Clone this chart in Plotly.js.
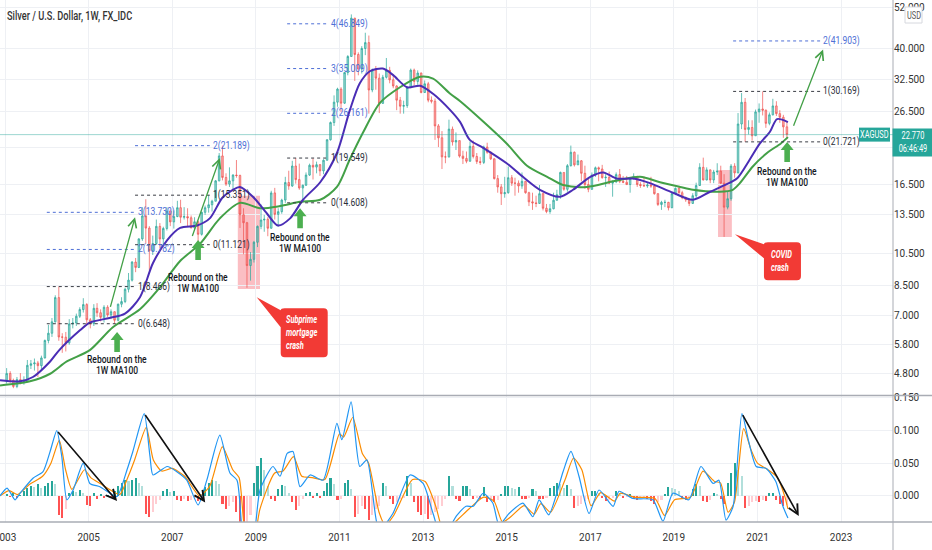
<!DOCTYPE html>
<html><head><meta charset="utf-8">
<script src="https://cdn.plot.ly/plotly-3.0.1.min.js"></script>
<style>
html,body{margin:0;padding:0;background:#fff;}
#chart{width:932px;height:550px;}
.annotation-text{transform-box:fill-box;transform-origin:50% 50%;transform:scaleX(0.74);}
.annotation-text[text-anchor="start"]{transform-origin:0% 50%;}
.annotation-text[text-anchor="end"]{transform-origin:100% 50%;}
</style>
</head><body><div id="chart"></div>
<script>
// ---------- DATA (monthly OHLC, Jan 2003 .. Sep 2021) ----------
const startYear = 2003;
const opens = [
4.57,4.81,4.60,4.42,4.62,4.55,4.57,5.07,5.12,5.15,5.06,5.32,
5.96,6.25,6.73,7.88,6.10,6.09,5.87,6.64,6.68,6.98,7.29,7.53,
6.82,6.65,7.35,7.14,6.93,7.40,7.04,7.19,6.80,7.55,7.68,8.32,
8.83,9.93,9.59,11.55,13.41,12.39,10.70,11.21,12.53,11.55,12.36,13.85,
12.90,13.36,14.15,13.30,13.35,13.25,12.40,12.91,11.90,13.73,14.15,14.42,
14.76,16.85,19.82,17.23,16.50,16.85,17.50,17.45,13.52,12.83,9.71,10.11,
11.30,12.53,13.06,13.12,12.38,15.58,13.55,13.79,14.87,16.67,16.30,18.56,
16.99,16.09,16.38,17.50,18.65,18.43,18.72,17.98,19.27,22.02,24.63,28.13,
30.63,27.95,34.10,37.87,48.60,38.36,34.89,39.90,41.45,30.45,34.66,32.88,
27.90,33.08,34.60,32.52,31.25,28.50,27.40,27.50,30.95,34.65,32.20,34.00,
29.95,31.70,28.50,28.30,24.10,22.30,19.70,19.70,23.60,21.70,21.90,19.80,
19.50,19.15,21.10,19.75,19.10,19.00,21.00,20.30,19.45,17.10,16.20,15.50,
15.60,17.20,16.60,16.60,16.30,16.80,15.60,14.70,14.60,14.55,15.50,14.10,
13.80,14.05,14.85,15.40,17.80,15.95,18.60,20.30,18.70,19.20,17.70,16.45,
15.95,17.50,18.35,18.20,17.20,17.25,16.60,16.75,17.55,16.80,16.70,16.45,
17.10,17.35,16.45,16.35,16.30,16.40,16.30,15.50,14.45,14.65,14.65,14.15,
15.50,16.05,15.60,15.10,14.90,14.55,15.30,16.35,18.40,16.95,18.10,16.95,
17.85,17.95,16.60,14.20,15.00,18.55,17.75,24.40,28.10,23.55,23.85,22.60,
26.40,26.90,26.70,24.50,25.90,27.45,26.10,25.50,23.95];
const highs = [
4.98,4.88,4.65,4.70,4.82,4.72,5.25,5.25,5.30,5.22,5.40,6.00,
6.60,6.90,8.00,8.47,6.25,6.30,6.85,6.90,7.10,7.40,7.85,7.60,
6.90,7.55,7.60,7.30,7.50,7.50,7.30,7.20,7.58,7.90,8.40,9.25,
10.00,10.20,11.60,14.20,14.95,12.55,11.80,13.10,12.80,12.50,14.20,14.00,
13.90,14.80,14.90,14.20,14.10,13.45,13.30,13.00,13.80,14.35,15.35,14.90,
16.95,20.20,21.19,17.70,18.40,17.60,19.30,17.55,14.10,12.90,10.60,11.40,
12.60,14.45,13.50,13.30,15.80,16.10,14.10,15.00,17.30,18.00,19.20,19.55,
18.85,16.45,17.80,18.85,19.50,19.10,18.80,19.40,22.10,24.80,29.40,30.90,
31.00,34.20,38.20,49.80,48.70,38.90,40.50,44.20,43.40,35.00,35.60,33.90,
33.60,37.50,35.40,33.30,31.40,29.10,28.40,31.10,35.00,35.00,34.60,34.10,
32.40,32.10,29.20,28.80,24.40,23.30,20.40,25.10,24.00,23.10,21.90,20.50,
20.40,21.80,21.90,20.20,19.70,21.20,21.60,20.40,19.50,17.50,16.50,17.30,
18.50,17.50,17.20,16.90,17.80,16.80,15.70,15.60,15.30,16.40,15.60,14.50,
14.50,15.60,15.90,17.90,17.80,18.80,21.20,20.40,20.00,19.30,18.60,17.10,
17.80,18.50,18.50,18.70,17.60,17.90,16.90,17.80,18.20,17.40,17.40,17.20,
17.70,17.40,16.70,17.35,16.70,17.30,16.40,15.55,14.80,14.90,14.70,15.60,
16.15,16.20,15.80,15.20,14.95,15.55,16.65,18.90,19.60,18.40,18.15,18.10,
18.90,18.60,17.60,15.75,18.80,18.90,26.20,29.85,28.90,25.00,25.00,26.80,
27.90,30.17,26.80,26.30,28.75,28.30,26.70,25.90,24.85];
const lows = [
4.50,4.53,4.37,4.37,4.48,4.47,4.55,4.95,4.90,4.70,4.93,5.30,
5.85,6.10,6.70,5.95,5.50,5.55,5.80,6.45,6.55,6.90,7.15,6.60,
6.45,6.55,6.95,6.75,6.70,6.95,6.85,6.65,6.75,7.40,7.60,8.15,
8.75,9.30,9.55,11.40,11.20,9.40,10.40,11.10,10.85,11.10,12.20,12.55,
12.35,13.30,12.80,13.10,12.50,12.40,12.20,11.12,11.80,13.50,13.70,13.80,
14.75,16.80,16.90,16.30,16.20,15.90,17.20,12.40,10.45,8.40,8.80,9.90,
10.95,12.30,12.10,11.75,12.35,13.10,12.50,13.60,14.60,15.90,16.20,16.55,
15.90,14.61,16.30,17.40,17.00,17.70,17.40,17.60,19.25,21.90,24.10,27.30,
26.40,27.80,33.50,37.80,32.30,33.50,33.90,38.20,26.10,30.00,30.50,26.20,
27.90,32.80,31.80,30.80,26.70,26.10,26.10,27.10,30.80,31.40,31.50,29.80,
29.90,28.10,27.90,22.00,21.00,18.20,18.90,19.60,21.20,20.60,19.60,18.80,
18.90,19.10,19.50,18.80,18.70,18.80,20.10,19.30,17.00,15.60,14.40,15.10,
15.50,16.30,15.30,15.60,16.00,15.50,14.30,13.95,14.20,14.50,13.90,13.65,
13.60,14.00,14.90,15.00,15.80,15.70,18.50,18.50,18.70,16.80,16.00,15.65,
15.90,17.30,16.80,17.10,16.20,16.50,15.20,16.60,16.60,16.60,16.40,15.60,
17.00,16.20,16.10,16.25,16.10,16.10,15.40,14.30,13.95,14.20,13.90,14.10,
15.35,15.50,14.95,14.70,14.30,14.50,15.10,16.30,16.90,16.90,16.60,16.60,
17.50,16.50,11.70,14.00,14.80,17.20,17.70,23.60,21.72,22.80,21.90,22.60,
24.60,25.80,23.80,24.20,25.80,25.70,24.60,22.30,22.10];
const closes = [
4.81,4.60,4.42,4.62,4.55,4.57,5.07,5.12,5.15,5.06,5.32,5.96,
6.25,6.73,7.88,6.10,6.09,5.87,6.64,6.68,6.98,7.29,7.53,6.82,
6.65,7.35,7.14,6.93,7.40,7.04,7.19,6.80,7.55,7.68,8.32,8.83,
9.93,9.59,11.55,13.41,12.39,10.70,11.21,12.53,11.55,12.36,13.85,12.90,
13.36,14.15,13.30,13.35,13.25,12.40,12.91,11.90,13.73,14.15,14.42,14.76,
16.85,19.82,17.23,16.50,16.85,17.50,17.45,13.52,12.83,9.71,10.11,11.30,
12.53,13.06,13.12,12.38,15.58,13.55,13.79,14.87,16.67,16.30,18.56,16.99,
16.09,16.38,17.50,18.65,18.43,18.72,17.98,19.27,22.02,24.63,28.13,30.63,
27.95,34.10,37.87,48.60,38.36,34.89,39.90,41.45,30.45,34.66,32.88,27.90,
33.08,34.60,32.52,31.25,28.50,27.40,27.50,30.95,34.65,32.20,34.00,29.95,
31.70,28.50,28.30,24.10,22.30,19.70,19.70,23.60,21.70,21.90,19.80,19.50,
19.15,21.10,19.75,19.10,19.00,21.00,20.30,19.45,17.10,16.20,15.50,15.60,
17.20,16.60,16.60,16.30,16.80,15.60,14.70,14.60,14.55,15.50,14.10,13.80,
14.05,14.85,15.40,17.80,15.95,18.60,20.30,18.70,19.20,17.70,16.45,15.95,
17.50,18.35,18.20,17.20,17.25,16.60,16.75,17.55,16.80,16.70,16.45,17.10,
17.35,16.45,16.35,16.30,16.40,16.30,15.50,14.45,14.65,14.65,14.15,15.50,
16.05,15.60,15.10,14.90,14.55,15.30,16.35,18.40,16.95,18.10,16.95,17.85,
17.95,16.60,14.20,15.00,18.55,17.75,24.40,28.10,23.55,23.85,22.60,26.40,
26.90,26.70,24.50,25.90,27.45,26.10,25.50,23.95,22.77];

// Moving averages (decimal year, price)
const ma50Years = [2002.88,2003.36,2003.67,2004.08,2004.30,2004.80,2005.03,2005.50,2005.87,2006.23,2006.54,2006.88,2007.19,2007.60,2007.90,2008.20,2008.45,2008.62,2008.93,2009.27,2009.53,2009.82,2010.13,2010.54,2010.94,2011.25,2011.49,2011.73,2012.04,2012.28,2012.62,2012.93,2013.24,2013.65,2013.89,2014.12,2014.44,2015.00,2015.39,2015.80,2016.28,2016.59,2017.00,2017.31,2017.64,2018.02,2018.43,2018.98,2019.46,2019.87,2020.27,2020.51,2020.82,2021.06,2021.30,2021.47,2021.73];
const ma50Vals = [4.60,4.57,4.70,5.20,5.60,6.38,6.70,6.90,7.10,7.90,9.87,11.46,12.40,12.60,13.20,15.10,15.90,16.20,15.20,13.60,12.60,13.20,14.90,16.70,20.20,26.70,31.80,34.40,35.00,33.60,31.00,31.30,29.70,26.70,24.70,22.00,20.90,18.90,17.30,15.90,15.20,15.90,17.30,17.80,17.10,17.10,16.60,15.60,14.90,15.70,16.50,17.10,19.40,21.50,23.20,25.20,24.70];
const ma100Years = [2002.88,2003.60,2004.08,2004.48,2005.03,2005.58,2006.23,2006.70,2007.19,2007.67,2008.14,2008.62,2009.10,2009.58,2010.06,2010.54,2010.94,2011.25,2011.56,2011.97,2012.45,2012.93,2013.24,2013.65,2013.89,2014.44,2015.00,2015.49,2015.97,2016.35,2016.92,2017.55,2018.19,2018.67,2019.15,2019.46,2020.10,2020.41,2020.58,2020.89,2021.23,2021.56,2021.73];
const ma100Vals = [4.45,4.57,4.80,5.20,5.60,6.50,7.30,8.40,10.00,11.20,13.20,14.60,14.10,14.30,14.70,14.90,16.20,19.40,23.00,28.00,31.00,33.20,32.80,29.70,28.30,24.80,21.50,18.60,17.30,16.40,16.20,16.80,17.30,16.70,16.20,15.90,15.70,15.90,16.60,18.50,20.20,21.50,22.40];

// MACD panel
const macdYears = [2002.88,2003.05,2003.24,2003.36,2003.67,2003.91,2004.08,2004.24,2004.36,2004.48,2004.63,2004.87,2005.03,2005.27,2005.51,2005.68,2005.92,2006.06,2006.33,2006.47,2006.54,2006.88,2007.11,2007.35,2007.62,2007.83,2008.14,2008.38,2008.55,2008.67,2008.85,2009.00,2009.10,2009.41,2009.58,2009.75,2009.89,2010.06,2010.30,2010.61,2010.94,2011.06,2011.28,2011.49,2011.66,2011.90,2012.00,2012.28,2012.69,2013.00,2013.24,2013.45,2013.81,2014.03,2014.20,2014.44,2014.67,2014.82,2015.06,2015.39,2015.63,2015.78,2016.01,2016.35,2016.54,2016.73,2016.97,2017.21,2017.55,2017.69,2018.02,2018.50,2018.74,2018.98,2019.36,2019.65,2019.94,2020.08,2020.25,2020.42,2020.63,2020.80,2020.97,2021.21,2021.44,2021.61,2021.73];
const macdVals = [0.000,0.012,-0.006,0.004,0.027,0.037,0.068,0.100,0.060,-0.006,0.009,0.050,0.019,0.014,0.004,-0.001,0.040,0.068,0.126,0.060,0.032,0.045,0.037,0.024,-0.014,0.024,0.093,0.035,0.024,-0.052,-0.110,-0.040,0.009,0.045,0.030,0.065,0.068,0.014,0.032,0.024,0.111,0.086,0.144,0.045,0.055,-0.042,-0.050,-0.027,0.032,0.019,-0.027,-0.065,-0.030,-0.016,-0.016,0.004,-0.011,-0.045,-0.027,-0.011,-0.032,-0.006,-0.029,0.037,0.068,0.030,-0.027,0.009,-0.016,0.007,-0.004,-0.006,-0.039,0.004,-0.006,0.045,0.019,0.024,-0.037,-0.016,0.126,0.081,0.045,0.042,0.022,-0.016,-0.034];
const signalYears = [2002.88,2003.10,2003.30,2003.60,2003.90,2004.10,2004.30,2004.45,2004.60,2004.90,2005.05,2005.30,2005.60,2005.75,2005.95,2006.10,2006.38,2006.55,2006.75,2007.00,2007.30,2007.65,2007.90,2008.20,2008.45,2008.60,2008.72,2008.90,2009.10,2009.45,2009.65,2009.90,2010.10,2010.35,2010.65,2011.00,2011.10,2011.32,2011.55,2011.70,2011.95,2012.10,2012.30,2012.75,2013.05,2013.30,2013.50,2013.85,2014.10,2014.45,2014.70,2014.90,2015.10,2015.42,2015.66,2015.82,2016.05,2016.40,2016.60,2016.80,2017.02,2017.25,2017.58,2017.72,2018.05,2018.55,2018.78,2019.02,2019.40,2019.70,2019.98,2020.12,2020.30,2020.45,2020.67,2020.85,2021.00,2021.25,2021.48,2021.65,2021.73];
const signalVals = [0.000,0.008,0.002,0.018,0.030,0.050,0.085,0.040,0.010,0.040,0.028,0.018,0.006,0.002,0.030,0.055,0.105,0.055,0.038,0.042,0.030,0.000,0.015,0.075,0.040,0.028,-0.045,-0.090,-0.020,0.035,0.038,0.060,0.030,0.028,0.025,0.095,0.090,0.120,0.065,0.050,-0.025,-0.045,-0.030,0.025,0.022,-0.015,-0.055,-0.035,-0.020,-0.002,-0.008,-0.040,-0.032,-0.015,-0.028,-0.012,-0.025,0.025,0.058,0.040,-0.015,0.005,-0.008,0.004,-0.002,-0.004,-0.030,-0.006,-0.002,0.038,0.022,0.020,-0.025,-0.010,0.103,0.070,0.050,0.040,0.028,0.000,-0.020];
// histogram, monthly, in thousandths
const histMilli = [
3,-2,4,-3,2,8,12,15,14,18,12,15,
20,22,18,-30,-34,-20,5,8,6,9,4,-14,
-16,4,-5,3,-4,2,-3,8,15,20,24,22,
25,27,20,15,-28,-32,-25,-12,-6,8,10,6,
8,-6,-8,-5,-8,-6,-4,-8,-3,14,20,24,
22,18,-12,-20,-15,-10,-25,-45,-50,-45,-30,20,
45,58,40,15,-5,-8,10,17,15,5,-10,-21,
-15,-5,5,6,-3,4,-4,8,20,27,18,-6,
-5,20,25,10,-32,-28,-15,-20,-37,-30,-20,-15,
20,15,-5,-12,-10,-5,-3,30,20,-10,-25,-30,
-28,-35,-30,-25,-20,-15,-5,30,15,-5,-8,15,
15,10,-5,-3,-5,14,-10,-8,-10,-6,3,15,
15,12,10,14,-5,-5,-3,10,8,-5,-5,-3,
12,15,19,18,12,16,10,-19,-15,-12,-8,-5,
8,8,5,-3,-8,-6,-3,7,4,-3,-2,3,
-5,-6,-4,-3,-5,-8,-12,-10,-6,3,14,12,
10,8,-4,-6,-3,10,18,15,-8,-10,-6,4,
3,-5,-12,20,35,50,40,30,-19,-15,-10,-8,
-10,-6,-8,4,5,-6,-12,-16,-14];

// Fibonacci levels drawn on the chart
const fib1 = [6.648, 8.466, 10.782, 13.730];
const fib2 = [11.121, 15.351, 21.189];
const fib3 = [14.608, 19.549, 26.161, 35.009, 46.849];
const fib4 = [21.721, 30.169, 41.903];

const priceTicks = [4.8, 5.8, 7, 8.5, 10.5, 13.5, 16.5, 21, 26.5, 32.5, 40, 52];
const priceTickText = ['4.800','5.800','7.000','8.500','10.500','13.500','16.500','','26.500','32.500','40.000','52.000'];
const macdTicks = [0, 0.05, 0.1, 0.15];
const macdTickText = ['0.000','0.050','0.100','0.150'];
const yearTicks = [2003,2005,2007,2009,2011,2013,2015,2017,2019,2021,2023];
const lastPrice = 22.77;

// ---------- helpers ----------
const FONT = 'Roboto, "Liberation Sans", sans-serif';
const PRICE_RANGE = [Math.log10(4.18), Math.log10(54.7)];
const PRICE_DOMAIN = [0.2433, 1];
function d(dec){
  const y = Math.floor(dec), f = dec - y;
  const a = Date.UTC(y,0,1), b = Date.UTC(y+1,0,1);
  return new Date(a + f*(b-a)).toISOString().slice(0,10);
}
const L = v => Math.log10(v);
const priceToPaper = v => PRICE_DOMAIN[0] + (L(v)-PRICE_RANGE[0])/(PRICE_RANGE[1]-PRICE_RANGE[0])*(PRICE_DOMAIN[1]-PRICE_DOMAIN[0]);
const months = closes.map((_, i) => {
  const y = startYear + Math.floor(i/12), m = i%12 + 1;
  return y + '-' + String(m).padStart(2,'0') + '-15';
});
const hist = histMilli.map(v => v/1000);
const histColors = hist.map((v,i) => {
  const p = i>0 ? hist[i-1] : 0;
  if (v >= 0) return v >= p ? '#26a69a' : '#b2dfdb';
  return v <= p ? '#ff5252' : '#ffcdd2';
});

// ---------- traces ----------
const traces = [
  {type:'candlestick', x:months, open:opens, high:highs, low:lows, close:closes,
   xaxis:'x', yaxis:'y', whiskerwidth:0,
   increasing:{line:{color:'rgba(38,166,154,0.7)',width:1}, fillcolor:'rgba(38,166,154,0.45)'},
   decreasing:{line:{color:'rgba(239,83,80,0.7)',width:1}, fillcolor:'rgba(239,83,80,0.45)'}},
  {type:'scatter', mode:'lines', x:ma100Years.map(d), y:ma100Vals, xaxis:'x', yaxis:'y',
   line:{color:'#43a047', width:2, shape:'spline', smoothing:0.8}},
  {type:'scatter', mode:'lines', x:ma50Years.map(d), y:ma50Vals, xaxis:'x', yaxis:'y',
   line:{color:'#4a2db5', width:2, shape:'spline', smoothing:0.8}},
  {type:'bar', x:months, y:hist, xaxis:'x', yaxis:'y2', width:18*86400000,
   marker:{color:histColors, line:{width:0}}},
  {type:'scatter', mode:'lines', x:signalYears.map(d), y:signalVals, xaxis:'x', yaxis:'y2',
   line:{color:'#fb8c00', width:1.2, shape:'spline', smoothing:0.6}},
  {type:'scatter', mode:'lines', x:macdYears.map(d), y:macdVals, xaxis:'x', yaxis:'y2',
   line:{color:'#2196f3', width:1.2, shape:'spline', smoothing:0.6}}
];

// ---------- shapes & annotations ----------
const shapes = [];
const ann = [];
const GRID = '#eef0f4';
const BORDER = '#a9acb4';
const W = 932/893;
const PX = 1/522;

shapes.push({type:'line', xref:'paper', yref:'paper', x0:0, x1:W, y0:0.2423, y1:0.2423, line:{color:BORDER, width:1.5}});
shapes.push({type:'line', xref:'paper', yref:'paper', x0:0, x1:W, y0:0, y1:0, line:{color:BORDER, width:1.5}});
shapes.push({type:'line', xref:'paper', yref:'paper', x0:1, x1:1, y0:-28*PX, y1:1, line:{color:BORDER, width:1}});
shapes.push({type:'line', xref:'paper', yref:'y', x0:0, x1:1, y0:lastPrice, y1:lastPrice, line:{color:'rgba(38,166,154,0.45)', width:1}});

// crash highlight boxes
shapes.push({type:'rect', xref:'x', yref:'y', x0:d(2008.57), x1:d(2009.10), y0:8.33, y1:15.3, fillcolor:'rgba(242,54,69,0.32)', line:{width:0}, layer:'below'});
shapes.push({type:'rect', xref:'x', yref:'y', x0:d(2020.06), x1:d(2020.39), y0:11.7, y1:18.1, fillcolor:'rgba(242,54,69,0.32)', line:{width:0}, layer:'below'});

// fib lines
function fibSet(levels, x0, x1){
  levels.forEach((v,i) => {
    const col = i <= 1 ? '#3a3d45' : '#4e6fd6';
    shapes.push({type:'line', xref:'x', yref:'y', x0:d(x0), x1:d(x1), y0:v, y1:v, line:{color:col, width:1, dash:'3px,3px'}});
    ann.push({xref:'x', yref:'y', x:d(x1), y:L(v), text:i+'('+v.toFixed(3)+')', showarrow:false, align:'left',
      xanchor:'left', yanchor:'middle', xshift:1, font:{family:FONT, size:11.5, color: i<=1 ? '#2a2e39' : '#4e6fd6'}});
  });
}
fibSet(fib1, 2004.00, 2006.11);
fibSet(fib2, 2006.11, 2007.90);
fibSet(fib3, 2009.75, 2010.73);
fibSet(fib4, 2020.42, 2022.50);

// block arrows "rebound"
const blockArrowPath = 'M0,0 L6.5,-8 L2.8,-8 L2.8,-20 L-2.8,-20 L-2.8,-8 L-6.5,-8 Z';
[[2005.68,6.3],[2007.62,11.46],[2010.06,14.1],[2021.71,21.7]].forEach(p => {
  shapes.push({type:'path', xref:'x', yref:'y', xsizemode:'pixel', ysizemode:'pixel', xanchor:d(p[0]), yanchor:p[1],
    path:blockArrowPath, fillcolor:'#4caf50', line:{width:0}});
});
// rebound texts
[[2005.68,5.28],[2007.62,9.0],[2010.06,11.68],[2021.71,17.96]].forEach(p => {
  ['Rebound on the','1W MA100'].forEach((t,k) => {
    ann.push({xref:'x', yref:'y', x:d(p[0]), y:L(p[1]), text:t, showarrow:false, xanchor:'center', yanchor:'middle',
      yshift:-k*11.5, font:{family:FONT, size:11.5, color:'#131722', weight:500}});
  });
});

// callouts
shapes.push({type:'path', xref:'x', yref:'y', xsizemode:'pixel', ysizemode:'pixel', xanchor:d(2009.02), yanchor:7.9,
  path:'M0,0 L24,-13 Q24,-11 28,-11 L67,-11 Q71,-11 71,-15 L71,-56 Q71,-60 67,-60 L28,-60 Q24,-60 24,-56 L24,-30 Z',
  fillcolor:'#f23a35', line:{width:0}});
ann.push({xref:'x', yref:'y', x:d(2009.02), y:L(7.9), text:'<b><i>Subprime<br>mortgage<br>crash</i></b>', showarrow:false,
  align:'left', xanchor:'left', yanchor:'middle', xshift:27, yshift:-35, font:{family:FONT, size:10, color:'#ffffff'}});
shapes.push({type:'path', xref:'x', yref:'y', xsizemode:'pixel', ysizemode:'pixel', xanchor:d(2020.464), yanchor:11.9,
  path:'M0,0 L29,-10 Q29,-8 33,-8 L62,-8 Q66,-8 66,-12 L66,-42 Q66,-46 62,-46 L33,-46 Q29,-46 29,-42 L29,-24 Z',
  fillcolor:'#f23a35', line:{width:0}});
ann.push({xref:'x', yref:'y', x:d(2020.464), y:L(11.9), text:'<b><i>COVID<br>crash</i></b>', showarrow:false,
  align:'left', xanchor:'left', yanchor:'middle', xshift:34, yshift:-27, font:{family:FONT, size:10, color:'#ffffff'}});

// projection arrows (price panel)
[[2005.51,7.35,2006.11,13.3],[2007.47,11.65,2008.14,19.55],[2021.85,23.9,2022.57,39.6]].forEach(a => {
  ann.push({xref:'x', yref:'y', axref:'x', ayref:'y', x:d(a[2]), y:L(a[3]), ax:d(a[0]), ay:L(a[1]), text:'',
    showarrow:true, arrowhead:5, arrowsize:1.3, arrowwidth:1.3, arrowcolor:'#43a047', standoff:0});
});
// MACD trend arrows
[[2004.24,0.100,2005.68,-0.008],[2006.33,0.126,2007.79,-0.010],[2020.63,0.126,2021.99,-0.031]].forEach(a => {
  ann.push({xref:'x', yref:'y2', axref:'x', ayref:'y2', x:d(a[2]), y:a[3], ax:d(a[0]), ay:a[1], text:'',
    showarrow:true, arrowhead:5, arrowsize:1.2, arrowwidth:1.6, arrowcolor:'#111', standoff:0});
});

// header
ann.push({xref:'paper', yref:'paper', x:5/893, y:1-16*PX, text:'Silver / U.S. Dollar, 1W, FX_IDC', showarrow:false, align:'left',
  xanchor:'left', yanchor:'middle', font:{family:FONT, size:12.5, color:'#333', weight:500}});
// USD tag
shapes.push({type:'rect', xref:'paper', yref:'paper', x0:905/893, x1:922/893, y0:1-23*PX, y1:1-7*PX,
  fillcolor:'#ffffff', line:{color:'#d6d8de', width:1}});
ann.push({xref:'paper', yref:'paper', x:913.5/893, y:1-15*PX, text:'USD', showarrow:false, xanchor:'center', yanchor:'middle',
  font:{family:FONT, size:10, color:'#555'}});
// symbol tag
const tagY = priceToPaper(lastPrice);
shapes.push({type:'rect', xref:'paper', yref:'paper', x0:859/893, x1:890/893, y0:tagY-7*PX, y1:tagY+7*PX,
  fillcolor:'#26a69a', line:{width:0}});
ann.push({xref:'paper', yref:'y', x:874.5/893, y:L(lastPrice), text:'XAGUSD', showarrow:false, xanchor:'center', yanchor:'middle',
  font:{family:FONT, size:10, color:'#fff'}});
// price tag (box + two lines)
ann.push({xref:'paper', yref:'y', x:892/893, y:L(lastPrice), text:'22.770<br>06:46:49', showarrow:false,
  xanchor:'left', yanchor:'top', yshift:7, width:40, height:27, align:'center', valign:'middle',
  bgcolor:'#26a69a', borderpad:0, font:{family:FONT, size:10, color:'#fff'}});

const layout = {
  width:932, height:550, margin:{l:0, r:39, t:0, b:28},
  paper_bgcolor:'#fff', plot_bgcolor:'#fff', showlegend:false, hovermode:false, dragmode:false,
  bargap:0,
  xaxis:{type:'date', range:[d(2002.88), d(2024.244)], anchor:'y2',
    tickvals:yearTicks.map(y => y+'-01-01'), ticktext:yearTicks.map(String),
    showgrid:true, gridcolor:GRID, gridwidth:1, zeroline:false, showline:false, ticks:'',
    ticklabeloverflow:'allow', ticklabelstandoff:8,
    tickfont:{family:FONT, size:10, color:'#333'}, rangeslider:{visible:false}},
  yaxis:{type:'log', domain:PRICE_DOMAIN, range:PRICE_RANGE, side:'right', anchor:'x',
    tickvals:priceTicks, ticktext:priceTickText, showgrid:true, gridcolor:GRID, zeroline:false, showline:false, ticks:'',
    ticklabeloverflow:'allow', tickfont:{family:FONT, size:10, color:'#333'}},
  yaxis2:{domain:[0,0.2414], range:[-0.040,0.1529], side:'right', anchor:'x',
    tickvals:macdTicks, ticktext:macdTickText, showgrid:true, gridcolor:GRID, zeroline:false, showline:false, ticks:'',
    ticklabeloverflow:'allow', tickfont:{family:FONT, size:10, color:'#333'}},
  shapes:shapes, annotations:ann
};
Plotly.newPlot('chart', traces, layout, {staticPlot:true, displayModeBar:false});
</script>
</body></html>
